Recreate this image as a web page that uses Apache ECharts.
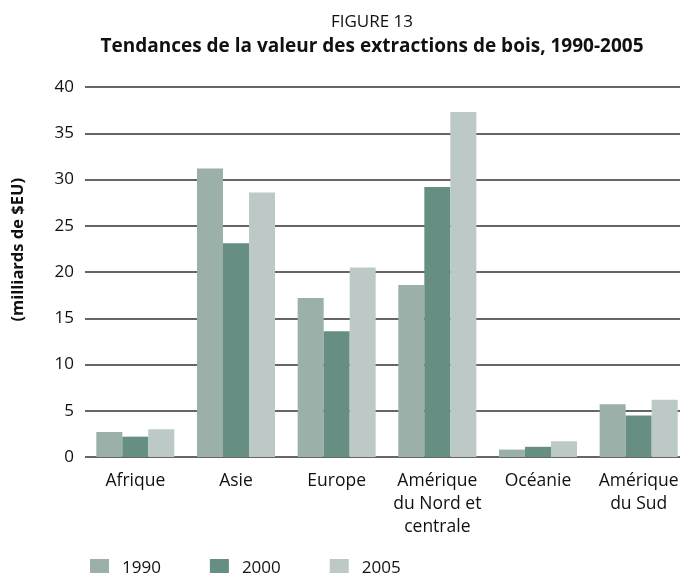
<!DOCTYPE html>
<html>
<head>
<meta charset="utf-8">
<script src="https://cdn.jsdelivr.net/npm/echarts@6/dist/echarts.min.js"></script>
<style>
  html, body { margin: 0; padding: 0; background: #fff; }
  #main { width: 680px; height: 573px; }
</style>
</head>
<body>
<div id="main"></div>
<script>
var regions = ['Afrique', 'Asie', 'Europe', 'Amérique\ndu Nord et\ncentrale', 'Océanie', 'Amérique\ndu Sud'];
var years = ['1990', '2000', '2005'];
var v1990 = [2.7, 31.2, 17.2, 18.6, 0.8, 5.7];
var v2000 = [2.2, 23.1, 13.6, 29.2, 1.1, 4.5];
var v2005 = [3.0, 28.6, 20.5, 37.3, 1.7, 6.2];
var colors = ['#9ab0a9', '#678e83', '#bdc9c6'];

var font = 'Open Sans';
var myChart = echarts.init(document.getElementById('main'));
var option = {
	backgroundColor: '#fff',
	animation: false,
	color: colors,
	title: {
		text: 'FIGURE 13',
		subtext: 'Tendances de la valeur des extractions de bois, 1990-2005',
		left: 367,
		textAlign: 'center',
		top: 9,
		itemGap: 6,
		textStyle: { fontFamily: font, fontSize: 17, fontWeight: 'normal', color: '#111' },
		subtextStyle: { fontFamily: font, fontSize: 19, fontWeight: 'bold', color: '#111' }
	},
	legend: {
		left: 85,
		top: 554,
		itemWidth: 19,
		itemHeight: 19,
		itemGap: 49,
		icon: 'rect',
		textStyle: { fontFamily: font, fontSize: 17, color: '#111', padding: [0, 0, 0, 8] },
		data: years
	},
	grid: {
		left: 85,
		top: 87,
		width: 604,
		height: 370,
		outerBoundsMode: 'none'
	},
	xAxis: {
		type: 'category',
		data: regions,
		axisLine: { show: false },
		axisTick: { show: false },
		axisLabel: {
			margin: 13,
			interval: 0,
			fontFamily: font,
			fontSize: 17.5,
			color: '#111',
			lineHeight: 23
		}
	},
	yAxis: {
		type: 'value',
		min: 0,
		max: 40,
		interval: 5,
		axisLine: { show: false },
		axisTick: { show: false },
		axisLabel: { margin: 11, fontFamily: font, fontSize: 17, color: '#111' },
		splitLine: { lineStyle: { color: '#333', width: 1.5 } }
	},
	graphic: [{
		type: 'text',
		left: 10,
		top: 178,
		style: {
			text: '(milliards de $EU)',
			font: 'bold 16.5px "Open Sans"',
			fill: '#111'
		},
		rotation: Math.PI / 2,
		originX: 0,
		originY: 0
	}],
	series: [
		{ name: years[0], type: 'bar', data: v1990, barGap: '0%', barCategoryGap: '22.5%' },
		{ name: years[1], type: 'bar', data: v2000, barGap: '0%', barCategoryGap: '22.5%' },
		{ name: years[2], type: 'bar', data: v2005, barGap: '0%', barCategoryGap: '22.5%' }
	]
};
myChart.setOption(option);
</script>
</body>
</html>
